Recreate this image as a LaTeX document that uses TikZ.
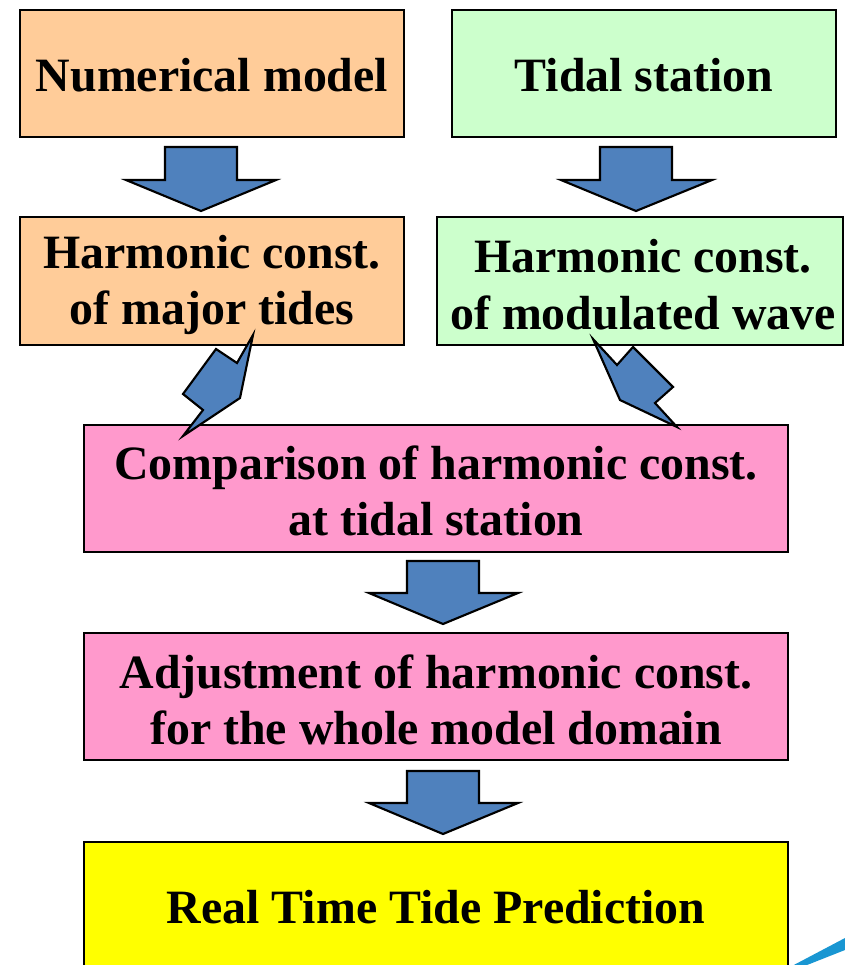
\documentclass[tikz,border=0pt]{standalone}
\usepackage{fontspec}
\setmainfont{Liberation Serif}
\begin{document}
\begin{tikzpicture}[x=0.75pt,y=-0.75pt,
  box/.style={draw=black,line width=1.7pt,inner sep=0pt},
  lbl/.style={font=\bfseries\fontsize{35.9}{42.5}\selectfont,align=center,inner sep=0pt},
  barrow/.style={fill=arrowblue,draw=black,line width=1.6pt,line join=miter}]
\definecolor{orangebox}{RGB}{255,204,153}
\definecolor{greenbox}{RGB}{204,255,204}
\definecolor{pinkbox}{RGB}{255,153,204}
\definecolor{yellowbox}{RGB}{255,255,0}
\definecolor{arrowblue}{RGB}{79,129,189}
\definecolor{swoosh}{RGB}{25,150,210}
\useasboundingbox (0,0) rectangle (845,965);
\clip (0,0) rectangle (845,965);
% boxes
\draw[box,fill=orangebox] (20,10) rectangle (404,137);
\draw[box,fill=greenbox] (452,10) rectangle (836,137);
\draw[box,fill=orangebox] (20,217) rectangle (404,345);
\draw[box,fill=greenbox] (437,217) rectangle (843,345);
\draw[box,fill=pinkbox] (84,425) rectangle (788,552);
\draw[box,fill=pinkbox] (84,633) rectangle (788,760);
\draw[box,fill=yellowbox] (84,842) rectangle (788,1000);
% labels
\node[lbl] (nm) at (212,75) {Numerical model};
\node[lbl] (ts) at (644,75) {Tidal station};
\node[lbl] (hm) at (212,285) {Harmonic const.\\of major tides};
\node[lbl] (hw) at (643,285) {Harmonic const.\\of modulated wave};
\node[lbl] (cp) at (436,491) {Comparison of harmonic const.\\at tidal station};
\node[lbl] (ad) at (436,700) {Adjustment of harmonic const.\\for the whole model domain};
\node[lbl] (rt) at (436,907) {Real Time Tide Prediction};
% straight down arrows
\draw[barrow] (165,147) -- (237,147) -- (237,180) -- (276,180) -- (201,211) -- (126,180) -- (165,180) -- cycle;
\draw[barrow] (600,147) -- (672,147) -- (672,180) -- (712,180) -- (636,211) -- (561,180) -- (600,180) -- cycle;
\draw[barrow] (407,561) -- (479,561) -- (479,593) -- (518,593) -- (443,624) -- (369,593) -- (407,593) -- cycle;
\draw[barrow] (407,771) -- (479,771) -- (479,803) -- (518,803) -- (443,834) -- (369,803) -- (407,803) -- cycle;
% diagonal arrows
\draw[barrow] (253,335) -- (237,363) -- (216,349) -- (183,394) -- (203,410) -- (183,436) -- (240,398) -- cycle;
\draw[barrow] (593,339) -- (617,365) -- (633,347) -- (673,387) -- (655,403) -- (677,427) -- (620,400) -- cycle;
% swoosh
\fill[swoosh] (790,967) -- (845,938) -- (845,950) -- (802,967) -- cycle;
\end{tikzpicture}
\end{document}
